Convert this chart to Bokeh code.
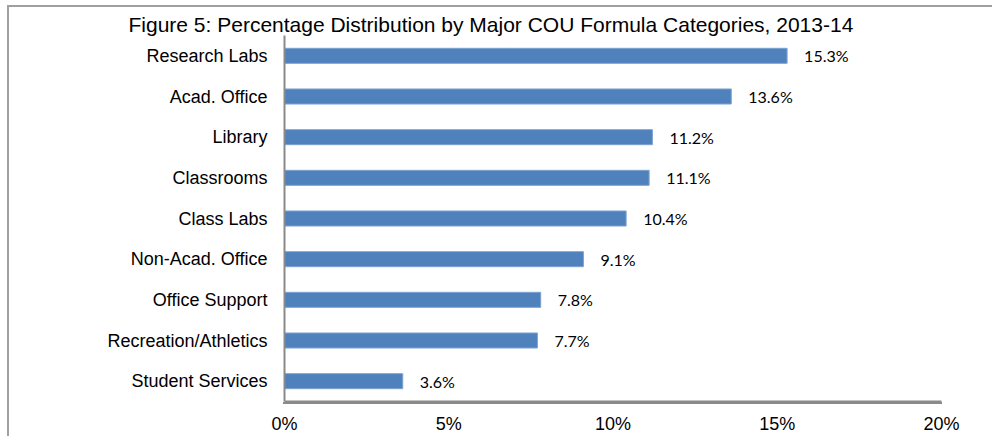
from bokeh.plotting import figure
from bokeh.models import FactorRange, FixedTicker, ColumnDataSource
from bokeh.core.properties import value
from bokeh.embed import file_html
from bokeh.resources import INLINE

categories = ["Research Labs", "Acad. Office", "Library", "Classrooms", "Class Labs",
              "Non-Acad. Office", "Office Support", "Recreation/Athletics", "Student Services"]
percent_values = [15.3, 13.6, 11.2, 11.1, 10.4, 9.1, 7.8, 7.7, 3.6]
value_labels = ["15.3%", "13.6%", "11.2%", "11.1%", "10.4%", "9.1%", "7.8%", "7.7%", "3.6%"]
x_ticks = [0, 5, 10, 15, 20]
x_tick_labels = ["0%", "5%", "10%", "15%", "20%"]
title_text = "Figure 5: Percentage Distribution by Major COU Formula Categories, 2013-14"

src = ColumnDataSource(dict(cat=categories, val=percent_values, lab=value_labels))

# outer chart-area border (left and top) and axis baseline, painted behind a transparent canvas
frame_css = ("linear-gradient(#a0a0a0,#a0a0a0) 7px 5px / 2px calc(100% - 5px) no-repeat, "
             "linear-gradient(#a0a0a0,#a0a0a0) 7px 5px / calc(100% - 7px) 2px no-repeat, "
             "linear-gradient(#8a8a8a,#8a8a8a) 283px 402px / 659px 2px no-repeat, white")

p = figure(width=992, height=436, output_backend="svg", toolbar_location=None,
           y_range=FactorRange(factors=list(reversed(categories))),
           x_range=(0, 20),
           title=title_text,
           min_border_left=284, min_border_right=51, min_border_top=35, min_border_bottom=33,
           styles={"background": frame_css})
p.outline_line_color = None
p.background_fill_color = None
p.border_fill_color = None
p.xgrid.visible = False
p.ygrid.visible = False

p.title.align = "left"
p.title.offset = -156
p.title.standoff = 0
p.title.text_font = "Liberation Sans"
p.title.text_font_size = "21px"
p.title.text_font_style = "normal"
p.title.text_color = "#000000"

p.hbar(y="cat", right="val", left=0, height=0.37, source=src,
       fill_color="#4F81BD", line_color="#7EA3D3", line_width=1)
p.text(x="val", y="cat", text="lab", source=src, x_offset=17, text_baseline="middle",
       text_align="left", text_font=value("Lato"), text_font_size="16px", text_color="#000000")

axis_color = "#8a8a8a"
p.xaxis.axis_line_color = axis_color
p.yaxis.axis_line_color = axis_color
p.xaxis.axis_line_width = 2
p.yaxis.axis_line_width = 2
p.xaxis.major_tick_line_color = None
p.yaxis.major_tick_line_color = None
p.xaxis.minor_tick_line_color = None
p.yaxis.minor_tick_line_color = None
p.xaxis.major_tick_out = 0
p.yaxis.major_tick_out = 0
p.xaxis.major_tick_in = 0
p.yaxis.major_tick_in = 0
for ax in (p.xaxis, p.yaxis):
    ax.major_label_text_font = "Liberation Sans"
    ax.major_label_text_font_size = "18px"
    ax.major_label_text_color = "#000000"

p.xaxis.ticker = FixedTicker(ticks=x_ticks, minor_ticks=[])
p.xaxis.major_label_overrides = {t: l for t, l in zip(x_ticks, x_tick_labels)}
p.xaxis.major_label_standoff = 12
p.yaxis.major_label_standoff = 17

open("out.html", "w").write(file_html(p, INLINE))
